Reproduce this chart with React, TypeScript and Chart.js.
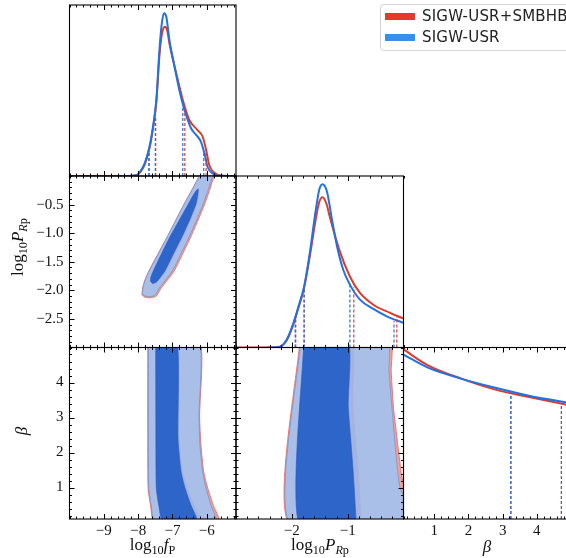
import React, { useEffect, useRef } from "react";
import { Chart, registerables } from "chart.js";
Chart.register(...registerables);

// ---------------- data ----------------
const fpRange = [-10, -5.15];
const prRange = [-3, 0];
const betaRange = [0.1, 5];
const densRange = [0, 1.05];

const fpTicks = [-9, -8, -7, -6];
const prTicksX = [-2, -1];
const prTicksY = [-0.5, -1.0, -1.5, -2.0, -2.5];
const betaTicks = [1, 2, 3, 4];

const seriesNames = ["SIGW-USR+SMBHB", "SIGW-USR"];

// 1D marginal of log10 f_P
const fpBlueX = [-8.68, -8.3, -8.05, -7.95, -7.81, -7.67, -7.57, -7.47, -7.38, -7.31, -7.25, -7.18, -7.09, -6.94, -6.8, -6.65, -6.46, -6.31, -6.17, -6.07, -5.98, -5.83, -5.65, -5.15];
const fpBlueY = [0, 0, 0.004, 0.025, 0.078, 0.18, 0.3, 0.467, 0.774, 0.938, 1.0, 0.978, 0.835, 0.671, 0.528, 0.405, 0.293, 0.252, 0.21, 0.139, 0.057, 0.016, 0.002, 0];
const fpRedX = [-10, -8.3, -8.05, -7.95, -7.81, -7.67, -7.57, -7.47, -7.38, -7.31, -7.22, -7.15, -7.09, -6.89, -6.7, -6.51, -6.27, -6.12, -6.02, -5.93, -5.78, -5.6, -5.15];
const fpRedY = [0, 0, 0.004, 0.02, 0.07, 0.17, 0.29, 0.455, 0.74, 0.87, 0.917, 0.89, 0.815, 0.63, 0.467, 0.344, 0.282, 0.241, 0.16, 0.068, 0.02, 0.003, 0];
const fpBlueQ = [-7.69, -7.5, -6.7, -6.09];
const fpBlueQH = [0.15, 0.37, 0.42, 0.14];
const fpRedQ = [-7.68, -7.49, -6.64, -6.02];
const fpRedQH = [0.15, 0.37, 0.41, 0.16];

// 1D marginal of log10 P_Rp
const prBlueX = [-2.45, -2.21, -2.09, -1.97, -1.88, -1.78, -1.67, -1.58, -1.51, -1.45, -1.37, -1.28, -1.19, -1.08, -0.96, -0.78, -0.54, -0.3, 0.0];
const prBlueY = [0, 0.005, 0.049, 0.151, 0.252, 0.374, 0.598, 0.822, 0.965, 1.0, 0.954, 0.781, 0.618, 0.476, 0.385, 0.293, 0.236, 0.191, 0.151];
const prRedX = [-3, -2.25, -2.21, -2.09, -1.97, -1.88, -1.78, -1.67, -1.58, -1.51, -1.45, -1.38, -1.32, -1.15, -0.96, -0.78, -0.54, -0.24, 0.0];
const prRedY = [0, 0, 0.004, 0.045, 0.145, 0.245, 0.365, 0.575, 0.77, 0.89, 0.92, 0.88, 0.8, 0.598, 0.435, 0.334, 0.262, 0.212, 0.177];
const prBlueQ = [-1.94, -1.78, -0.96, -0.17];
const prBlueQH = [0.19, 0.374, 0.395, 0.16];
const prRedQ = [-1.93, -1.78, -0.89, -0.12];
const prRedQH = [0.19, 0.374, 0.37, 0.19];

// 1D marginal of beta
const betaBlueX = [0.1, 0.83, 1.81, 2.79, 3.77, 4.88, 5.0];
const betaBlueY = [1.007, 0.925, 0.858, 0.803, 0.755, 0.714, 0.71];
const betaRedX = [0.1, 0.83, 1.81, 2.79, 3.77, 4.88, 5.0];
const betaRedY = [1.038, 0.939, 0.858, 0.792, 0.747, 0.7, 0.695];
const betaBlueQ = [3.24, 4.72];
const betaBlueQH = [0.782, 0.71];
const betaRedQ = [3.24, 4.72];
const betaRedQH = [0.782, 0.705];

// 2D: log10 f_P vs log10 P_Rp (contour polygons)
const fpPrBlueOuterF = [-7.88, -7.8, -7.65, -7.5, -7.38, -7.2, -6.99, -6.75, -6.51, -6.3, -6.1, -5.95, -5.83, -5.77, -6.13, -6.22, -6.43, -6.65, -6.9, -7.15, -7.41, -7.67, -7.8, -7.86];
const fpPrBlueOuterP = [-2.06, -2.1, -2.11, -2.08, -1.96, -1.82, -1.65, -1.36, -1.06, -0.77, -0.48, -0.22, 0, 0.1, 0.1, 0, -0.24, -0.48, -0.77, -1.06, -1.36, -1.65, -1.83, -1.96];
const fpPrRedOuterF = [-7.89, -7.8, -7.64, -7.47, -7.34, -7.16, -6.95, -6.71, -6.47, -6.26, -6.06, -5.91, -5.79, -5.73, -6.13, -6.22, -6.43, -6.65, -6.9, -7.15, -7.42, -7.68, -7.81, -7.87];
const fpPrRedOuterP = [-2.08, -2.12, -2.13, -2.1, -1.97, -1.83, -1.66, -1.37, -1.07, -0.78, -0.49, -0.23, 0, 0.1, 0.1, 0, -0.24, -0.48, -0.77, -1.06, -1.36, -1.65, -1.83, -1.96];
const fpPrBlueInnerF = [-7.64, -7.58, -7.48, -7.35, -7.21, -6.97, -6.72, -6.5, -6.31, -6.26, -6.25, -6.3, -6.4, -6.53, -6.8, -7.07, -7.32, -7.55, -7.63];
const fpPrBlueInnerP = [-1.84, -1.88, -1.86, -1.77, -1.65, -1.36, -1.06, -0.77, -0.48, -0.32, -0.23, -0.25, -0.34, -0.48, -0.77, -1.06, -1.36, -1.65, -1.77];
const fpPrRedInnerF = [-7.65, -7.58, -7.46, -7.32, -7.17, -6.93, -6.68, -6.46, -6.27, -6.22, -6.23, -6.3, -6.4, -6.53, -6.8, -7.07, -7.32, -7.56, -7.64];
const fpPrRedInnerP = [-1.85, -1.89, -1.87, -1.78, -1.66, -1.37, -1.07, -0.78, -0.49, -0.32, -0.21, -0.24, -0.34, -0.48, -0.77, -1.06, -1.36, -1.65, -1.77];

// 2D: log10 f_P vs beta
const fpBeBlueOuterF = [-7.7, -7.7, -7.69, -7.62, -7.5, -5.73, -5.88, -6.02, -6.12, -6.2, -6.23, -6.25];
const fpBeBlueOuterB = [5.3, 2.0, 0.97, 0.49, 0.0, 0.0, 0.49, 0.97, 1.45, 2.2, 3.0, 5.3];
const fpBeRedOuterF = [-7.72, -7.72, -7.71, -7.64, -7.52, -5.64, -5.81, -5.97, -6.09, -6.17, -6.21, -6.23];
const fpBeRedOuterB = [5.3, 2.0, 0.97, 0.49, 0.0, 0.0, 0.49, 0.97, 1.45, 2.2, 3.0, 5.3];
const fpBeBlueInnerF = [-7.49, -7.48, -7.47, -7.4, -7.27, -6.28, -6.46, -6.63, -6.75, -6.84, -6.88];
const fpBeBlueInnerB = [5.3, 1.5, 0.97, 0.49, 0.0, 0.0, 0.49, 0.97, 1.45, 2.4, 5.3];
const fpBeRedInnerF = [-7.5, -7.49, -7.48, -7.41, -7.28, -6.16, -6.36, -6.55, -6.69, -6.8, -6.85];
const fpBeRedInnerB = [5.3, 1.5, 0.97, 0.49, 0.0, 0.0, 0.49, 0.97, 1.45, 2.4, 5.3];

// 2D: log10 P_Rp vs beta
const prBeBlueOuterP = [-1.835, -2.045, 0.3, 0.3, -0.03, -0.1, -0.16, -0.21, -0.26, -0.3];
const prBeBlueOuterB = [5.3, 0.0, 0.0, 0.6, 0.85, 1.42, 2.4, 3.32, 4.3, 5.3];
const prBeRedOuterP = [-1.85, -2.06, 0.3, 0.3, 0.0, -0.07, -0.13, -0.18, -0.22, -0.25];
const prBeRedOuterB = [5.3, 0.0, 0.0, 0.8, 1.14, 1.8, 2.6, 3.3, 4.3, 5.3];
const prBeBlueInnerP = [-1.78, -1.88, -0.845, -0.85, -0.9, -0.945, -0.99, -1.005];
const prBeBlueInnerB = [5.3, 0.0, 0.0, 0.1, 1.42, 2.37, 3.32, 5.3];
const prBeRedInnerP = [-1.79, -1.89, -0.74, -0.75, -0.8, -0.85, -0.9, -0.93];
const prBeRedInnerB = [5.3, 0.0, 0.0, 0.1, 1.4, 2.37, 3.4, 5.3];

// ---------------- styling / layout ----------------
const RED = "#e0392b";
const BLUE = "#1f72e4";
const RED_PATCH = "#e33a2c";
const BLUE_PATCH = "#3a8ee8";
const CW = 600;
const CH = 558;
const colEdges = [69.5, 236, 403.5, 571];
const rowEdges = [5, 176, 347.5, 519];
const Y_AXIS_W = 60;
const X_AXIS_H = 32;
const TICK_FONT = { family: "'Liberation Serif', serif", size: 15 };

type AxisDef = { range: number[]; ticks: number[]; minor: number; dec: number };
const AX: Record<string, AxisDef> = {
  fp: { range: fpRange, ticks: fpTicks, minor: 0.2, dec: 0 },
  prX: { range: prRange, ticks: prTicksX, minor: 0.2, dec: 0 },
  prY: { range: prRange, ticks: prTicksY, minor: 0.1, dec: 1 },
  beta: { range: betaRange, ticks: betaTicks, minor: 0.2, dec: 0 },
  dens: { range: densRange, ticks: [], minor: 0, dec: 0 },
};

const fmt = (v: number, dec: number) => {
  const s = Math.abs(v).toFixed(dec);
  return v < 0 ? "\u2212" + s : s;
};

const pts = (xs: number[], ys: number[]) => xs.map((x, i) => ({ x, y: ys[i] }));
const closed = (xs: number[], ys: number[]) => {
  const p = pts(xs, ys);
  return [...p, p[0]];
};

const curve = (xs: number[], ys: number[], color: string, order: number) => ({
  data: pts(xs, ys),
  showLine: true,
  borderColor: color,
  borderWidth: 2,
  pointRadius: 0,
  fill: false,
  cubicInterpolationMode: "monotone",
  order,
  clip: 0,
});

const qLines = (qs: number[], hs: number[], color: string, order: number) =>
  qs.map((q, i) => ({
    data: [
      { x: q, y: 0 },
      { x: q, y: hs[i] },
    ],
    showLine: true,
    borderColor: color,
    borderWidth: 1.2,
    borderDash: [3, 2],
    pointRadius: 0,
    fill: false,
    order,
    clip: 0,
  }));

const region = (xs: number[], ys: number[], fillColor: string, line: string, lw: number, order: number) => ({
  data: closed(xs, ys),
  showLine: true,
  fill: "shape",
  backgroundColor: fillColor,
  borderColor: line,
  borderWidth: lw,
  pointRadius: 0,
  tension: 0.2,
  order,
  clip: 0,
});

const C = {
  redLight: "rgba(240,150,140,0.9)",
  redLightLine: "rgba(236,110,100,0.9)",
  redDark: "rgba(200,70,100,0.9)",
  blueLight: "rgba(158,197,246,0.85)",
  blueLightLine: "rgba(110,145,215,0.9)",
  blueDark: "rgba(42,98,200,0.97)",
};

const contourSets = (ro: number[][], rd: number[][], bo: number[][], bd: number[][]) => [
  region(ro[0], ro[1], C.redLight, C.redLightLine, 1, 4),
  region(rd[0], rd[1], C.redDark, "rgba(0,0,0,0)", 0, 3),
  region(bo[0], bo[1], C.blueLight, C.blueLightLine, 0.8, 2),
  region(bd[0], bd[1], C.blueDark, "rgba(40,90,200,1)", 0.6, 1),
];

// plugin: frame + inward ticks drawn from the chart's own scales
const framePlugin = {
  id: "frame",
  afterDraw(chart: any, _a: any, opts: any) {
    const { ctx, chartArea: a } = chart;
    const xs = chart.scales.x;
    const ys = chart.scales.y;
    const xd: AxisDef = AX[opts.xKey];
    const yd: AxisDef = AX[opts.yKey];
    ctx.save();
    ctx.strokeStyle = "#000";
    ctx.lineWidth = 1;
    const minorVals = (d: AxisDef) => {
      const out: number[] = [];
      if (!d.minor) return out;
      const n0 = Math.ceil(d.range[0] / d.minor - 1e-6);
      const n1 = Math.floor(d.range[1] / d.minor + 1e-6);
      for (let n = n0; n <= n1; n++) out.push(n * d.minor);
      return out;
    };
    const MAJ = 5;
    const MIN = 2.5;
    ctx.beginPath();
    for (const v of minorVals(xd)) {
      const px = Math.round(xs.getPixelForValue(v)) + 0.5;
      ctx.moveTo(px, a.bottom);
      ctx.lineTo(px, a.bottom - MIN);
      ctx.moveTo(px, a.top);
      ctx.lineTo(px, a.top + MIN);
    }
    for (const v of xd.ticks) {
      const px = Math.round(xs.getPixelForValue(v)) + 0.5;
      ctx.moveTo(px, a.bottom);
      ctx.lineTo(px, a.bottom - MAJ);
      ctx.moveTo(px, a.top);
      ctx.lineTo(px, a.top + MAJ);
    }
    if (opts.yTicks) {
      for (const v of minorVals(yd)) {
        const py = Math.round(ys.getPixelForValue(v)) + 0.5;
        ctx.moveTo(a.left, py);
        ctx.lineTo(a.left + MIN, py);
        ctx.moveTo(a.right, py);
        ctx.lineTo(a.right - MIN, py);
      }
      for (const v of yd.ticks) {
        const py = Math.round(ys.getPixelForValue(v)) + 0.5;
        ctx.moveTo(a.left, py);
        ctx.lineTo(a.left + MAJ, py);
        ctx.moveTo(a.right, py);
        ctx.lineTo(a.right - MAJ, py);
      }
    }
    ctx.stroke();
    ctx.lineWidth = 1.1;
    ctx.strokeRect(a.left, a.top, a.right - a.left, a.bottom - a.top);
    ctx.restore();
  },
};

type PanelCfg = {
  row: number;
  col: number;
  xKey: string;
  yKey: string;
  showX: boolean;
  showY: boolean;
  yTicks: boolean;
  datasets: any[];
};

const scaleCfg = (key: string, show: boolean, pad: number) => {
  const d = AX[key];
  return {
    type: "linear",
    min: d.range[0],
    max: d.range[1],
    display: show,
    grid: { display: false, drawTicks: false, drawOnChartArea: false },
    border: { display: false },
    afterBuildTicks: (s: any) => {
      s.ticks = d.ticks.map((v) => ({ value: v }));
    },
    afterFit: (s: any) => {
      if (s.isHorizontal()) s.height = show ? X_AXIS_H : 0;
      else s.width = show ? Y_AXIS_W : 0;
    },
    ticks: {
      display: show,
      autoSkip: false,
      maxRotation: 0,
      minRotation: 0,
      padding: pad,
      color: "#111",
      font: TICK_FONT,
      callback: (v: number) => fmt(v, d.dec),
    },
  };
};

function Panel({ cfg }: { cfg: PanelCfg }) {
  const ref = useRef<HTMLCanvasElement>(null);
  useEffect(() => {
    const left = colEdges[cfg.col] - (cfg.showY ? Y_AXIS_W : 0);
    const right = CW - colEdges[cfg.col + 1];
    const top = rowEdges[cfg.row];
    const bottom = CH - rowEdges[cfg.row + 1] - (cfg.showX ? X_AXIS_H : 0);
    const chart = new Chart(ref.current as HTMLCanvasElement, {
      type: "scatter",
      data: { datasets: cfg.datasets },
      options: {
        animation: false,
        responsive: false,
        maintainAspectRatio: false,
        devicePixelRatio: 1,
        layout: { padding: { left, right, top, bottom } },
        plugins: {
          legend: { display: false },
          tooltip: { enabled: false },
          frame: { xKey: cfg.xKey, yKey: cfg.yKey, yTicks: cfg.yTicks },
        } as any,
        scales: {
          x: { ...scaleCfg(cfg.xKey, cfg.showX, 3), position: "bottom" },
          y: { ...scaleCfg(cfg.yKey, cfg.showY, 6), position: "left" },
        } as any,
      } as any,
      plugins: [framePlugin],
    } as any);
    return () => chart.destroy();
  }, []);
  return (
    <canvas
      ref={ref}
      width={CW}
      height={CH}
      style={{ position: "absolute", left: 0, top: 0, width: CW, height: CH }}
    />
  );
}

const panels: PanelCfg[] = [
  {
    row: 0, col: 0, xKey: "fp", yKey: "dens", showX: false, showY: false, yTicks: false,
    datasets: [
      curve(fpRedX, fpRedY, RED, 3),
      curve(fpBlueX, fpBlueY, BLUE, 2),
      ...qLines(fpRedQ, fpRedQH, RED, 1),
      ...qLines(fpBlueQ, fpBlueQH, BLUE, 0),
    ],
  },
  {
    row: 1, col: 0, xKey: "fp", yKey: "prY", showX: false, showY: true, yTicks: true,
    datasets: contourSets(
      [fpPrRedOuterF, fpPrRedOuterP],
      [fpPrRedInnerF, fpPrRedInnerP],
      [fpPrBlueOuterF, fpPrBlueOuterP],
      [fpPrBlueInnerF, fpPrBlueInnerP]
    ),
  },
  {
    row: 1, col: 1, xKey: "prX", yKey: "dens", showX: false, showY: false, yTicks: false,
    datasets: [
      curve(prRedX, prRedY, RED, 3),
      curve(prBlueX, prBlueY, BLUE, 2),
      ...qLines(prRedQ, prRedQH, RED, 1),
      ...qLines(prBlueQ, prBlueQH, BLUE, 0),
    ],
  },
  {
    row: 2, col: 0, xKey: "fp", yKey: "beta", showX: true, showY: true, yTicks: true,
    datasets: contourSets(
      [fpBeRedOuterF, fpBeRedOuterB],
      [fpBeRedInnerF, fpBeRedInnerB],
      [fpBeBlueOuterF, fpBeBlueOuterB],
      [fpBeBlueInnerF, fpBeBlueInnerB]
    ),
  },
  {
    row: 2, col: 1, xKey: "prX", yKey: "beta", showX: true, showY: false, yTicks: true,
    datasets: contourSets(
      [prBeRedOuterP, prBeRedOuterB],
      [prBeRedInnerP, prBeRedInnerB],
      [prBeBlueOuterP, prBeBlueOuterB],
      [prBeBlueInnerP, prBeBlueInnerB]
    ),
  },
  {
    row: 2, col: 2, xKey: "beta", yKey: "dens", showX: true, showY: false, yTicks: false,
    datasets: [
      curve(betaRedX, betaRedY, RED, 3),
      curve(betaBlueX, betaBlueY, BLUE, 2),
      ...qLines(betaRedQ, betaRedQH, RED, 1),
      ...qLines(betaBlueQ, betaBlueQH, BLUE, 0),
    ],
  },
];

const labelFont = "17px 'Liberation Serif', serif";

function Label({ x, y, rotate, children }: any) {
  return (
    <div
      style={{
        position: "absolute",
        left: x,
        top: y,
        transform: `translate(-50%, -50%)${rotate ? " rotate(-90deg)" : ""}`,
        font: labelFont,
        color: "#111",
        whiteSpace: "nowrap",
        lineHeight: 1,
      }}
    >
      {children}
    </div>
  );
}

const subStyle: React.CSSProperties = { fontSize: "0.72em", verticalAlign: "-0.3em" };

export default function App() {
  return (
    <div
      style={{
        position: "fixed",
        left: 0,
        top: 0,
        width: 566,
        height: 558,
        overflow: "hidden",
        background: "#fff",
      }}
    >
      {panels.map((p, i) => (
        <Panel key={i} cfg={p} />
      ))}
      <Label x={152.5} y={546}>
        log<span style={subStyle}>10</span>
        <i>f</i>
        <span style={subStyle}>P</span>
      </Label>
      <Label x={320} y={546}>
        log<span style={subStyle}>10</span>
        <i>P</i>
        <span style={subStyle}>
          <i>R</i>p
        </span>
      </Label>
      <Label x={487} y={546}>
        <i>β</i>
      </Label>
      <Label x={19} y={247} rotate>
        log<span style={subStyle}>10</span>
        <i>P</i>
        <span style={subStyle}>
          <i>R</i>p
        </span>
      </Label>
      <Label x={21} y={431} rotate>
        <i>β</i>
      </Label>
      <div
        style={{
          position: "absolute",
          left: 380,
          top: 4,
          width: 200,
          height: 45,
          border: "1px solid #d4d4d4",
          borderRadius: 4,
          background: "rgba(255,255,255,0.9)",
          font: "15px 'DejaVu Sans', sans-serif",
          letterSpacing: "0.2px",
          color: "#222",
        }}
      >
        {seriesNames.map((n, i) => (
          <div key={n} style={{ position: "absolute", left: 4, top: 3 + i * 21, height: 16, display: "flex", alignItems: "center" }}>
            <span
              style={{
                display: "inline-block",
                width: 30,
                height: 7,
                background: i === 0 ? RED_PATCH : BLUE_PATCH,
                marginRight: 7,
              }}
            />
            <span>{n}</span>
          </div>
        ))}
      </div>
    </div>
  );
}
